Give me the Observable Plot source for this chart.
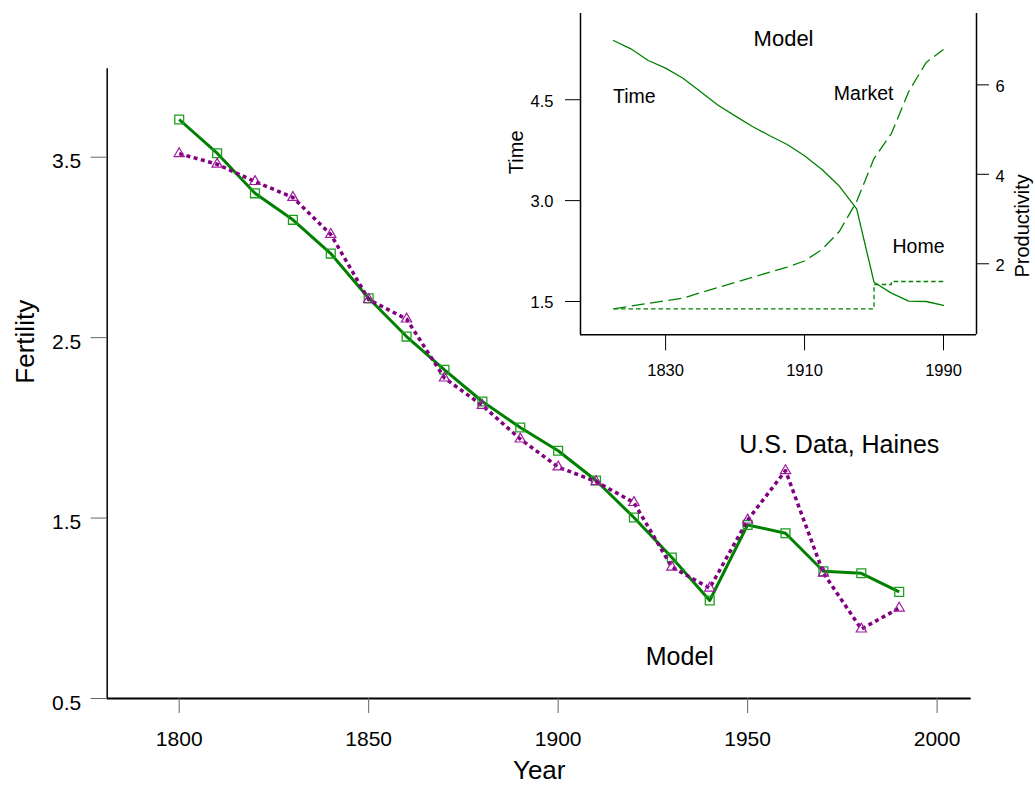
<!DOCTYPE html>
<html>
<head>
<meta charset="utf-8">
<script src="https://cdn.jsdelivr.net/npm/d3@7"></script>
<script src="https://cdn.jsdelivr.net/npm/@observablehq/plot@0.6"></script>
<style>
html, body { margin: 0; padding: 0; background: #fff; }
#chart { position: relative; width: 1035px; height: 798px; }
#chart svg { position: absolute; left: 0; top: 0; }
</style>
</head>
<body>
<div id="chart"></div>
<script>
// ---------- data ----------
const years = [1800, 1810, 1820, 1830, 1840, 1850, 1860, 1870, 1880, 1890,
               1900, 1910, 1920, 1930, 1940, 1950, 1960, 1970, 1980, 1990];
// main panel: fertility
const modelFertility = [3.709, 3.522, 3.300, 3.153, 2.966, 2.718, 2.506, 2.322, 2.146, 2.002,
                        1.873, 1.708, 1.503, 1.281, 1.043, 1.462, 1.416, 1.205, 1.194, 1.091];
const dataFertility  = [3.520, 3.461, 3.365, 3.277, 3.072, 2.711, 2.603, 2.276, 2.124, 1.938,
                        1.783, 1.702, 1.586, 1.228, 1.112, 1.489, 1.763, 1.195, 0.885, 1.001];
// inset: time (left axis), productivity (right axis)
const insetTime   = [5.381, 5.257, 5.083, 4.969, 4.820, 4.622, 4.422, 4.260, 4.102, 3.964,
                     3.834, 3.667, 3.463, 3.217, 2.878, 1.787, 1.624, 1.505, 1.500, 1.441];
const insetMarket = [0.993, 1.054, 1.114, 1.174, 1.232, 1.353, 1.469, 1.583, 1.697, 1.811,
                     1.925, 2.062, 2.319, 2.721, 3.392, 4.353, 4.912, 5.851, 6.500, 6.790];
const insetHome   = [0.993, 0.993, 0.993, 0.993, 0.993, 0.993, 0.993, 0.993, 0.993, 0.993,
                     0.993, 0.993, 0.993, 0.993, 0.993, 1.536, 1.604, 1.604, 1.604, 1.604];

// ticks
const mainXTicks = [1800, 1850, 1900, 1950, 2000];
const mainYTicks = [0.5, 1.5, 2.5, 3.5];
const insetXTicks = [1830, 1910, 1990];
const insetTimeTicks = [1.5, 3.0, 4.5];
const insetProdTicks = [2, 4, 6];

// text labels (placed in data coordinates)
const mainNotes = [
  {label: "U.S. Data, Haines", year: 1974.2, value: 1.906},
  {label: "Model", year: 1932.1, value: 0.731}
];
const insetTitleNote = [{label: "Model", year: 1897.9, value: 5.408}];
const insetNotes = [
  {label: "Time", year: 1812.0, value: 4.539},
  {label: "Market", year: 1944.0, value: 4.594},
  {label: "Home", year: 1975.6, value: 2.310}
];

// scale domains
const yearDomain = [1781, 2009];
const fertilityDomain = [0.5, 3.99];
const timeDomain = [1.005, 5.782];
const prodDomain = [0.412, 7.595];

// ---------- drawing ----------
const FONT = '"Liberation Sans", Arial, Helvetica, sans-serif';
const mainRows = years.map((yr, i) => ({year: yr, model: modelFertility[i], data: dataFertility[i]}));
const insetRows = years.map((yr, i) => ({year: yr, time: insetTime[i], market: insetMarket[i], home: insetHome[i]}));
const svgStyle = {fontFamily: FONT, background: "transparent", overflow: "visible", color: "#000"};

const main = Plot.plot({
  width: 1035, height: 798,
  marginLeft: 106.7, marginRight: 64.3, marginTop: 68.3, marginBottom: 100,
  style: svgStyle,
  x: {domain: yearDomain, axis: null},
  y: {domain: fertilityDomain, axis: null},
  marks: [
    Plot.ruleY([fertilityDomain[0]], {stroke: "#000", strokeWidth: 2}),
    Plot.ruleX([yearDomain[0]], {stroke: "#000", strokeWidth: 1.5}),
    Plot.axisX(mainXTicks, {anchor: "bottom", tickSize: 15, stroke: "#666", fill: "none", label: null}),
    Plot.axisX(mainXTicks, {anchor: "bottom", tickSize: 15, tickPadding: 18, stroke: "none", fill: "#000", fontSize: 21, label: null, tickFormat: d => String(d)}),
    Plot.axisY(mainYTicks, {anchor: "left", tickSize: 16, stroke: "#666", fill: "none", label: null}),
    Plot.axisY(mainYTicks, {anchor: "left", tickSize: 16, tickPadding: 10, stroke: "none", fill: "#000", fontSize: 21, dy: 4.5, label: null, tickFormat: d3.format(".1f")}),
    Plot.line(mainRows, {x: "year", y: "model", stroke: "#008000", strokeWidth: 3, strokeLinecap: "butt"}),
    Plot.dot(mainRows, {x: "year", y: "model", symbol: "square", r: 5, stroke: "#1e9e1e", strokeWidth: 1.3, fill: "none"}),
    Plot.line(mainRows, {x: "year", y: "data", stroke: "#800080", strokeWidth: 3.5, strokeDasharray: "4,3.5", strokeLinecap: "butt"}),
    Plot.dot(mainRows, {x: "year", y: "data", symbol: "triangle", r: 3.8, stroke: "#a01aa0", strokeWidth: 1.2, fill: "none"}),
    Plot.text(mainNotes, {x: "year", y: "value", text: "label", fontSize: 25, fill: "#000"}),
    Plot.text(["Year"], {text: d => d, frameAnchor: "bottom", dy: 80.7, fontSize: 26, fill: "#000"}),
    Plot.text(["Fertility"], {text: d => d, frameAnchor: "left", dx: -82, rotate: -90, fontSize: 26, fill: "#000"})
  ]
});

const insetMargins = {marginLeft: 580, marginRight: 59, marginTop: 13, marginBottom: 463.7};

const insetLeft = Plot.plot({
  width: 1035, height: 798, ...insetMargins,
  style: svgStyle,
  x: {domain: yearDomain, axis: null},
  y: {domain: timeDomain, axis: null},
  marks: [
    Plot.ruleY([timeDomain[0]], {stroke: "#000", strokeWidth: 1.5}),
    Plot.ruleX([yearDomain[0]], {stroke: "#000", strokeWidth: 1.5}),
    Plot.axisX(insetXTicks, {anchor: "bottom", tickSize: 16, stroke: "#000", fill: "none", label: null}),
    Plot.axisX(insetXTicks, {anchor: "bottom", tickSize: 16, tickPadding: 13.8, stroke: "none", fill: "#000", fontSize: 16.5, label: null, tickFormat: d => String(d)}),
    Plot.axisY(insetTimeTicks, {anchor: "left", tickSize: 15, stroke: "#000", fill: "none", label: null}),
    Plot.axisY(insetTimeTicks, {anchor: "left", tickSize: 15, tickPadding: 12, stroke: "none", fill: "#000", fontSize: 16.5, dy: 1.5, label: null, tickFormat: d3.format(".1f")}),
    Plot.line(insetRows, {x: "year", y: "time", stroke: "#008000", strokeWidth: 1.3}),
    Plot.text(insetTitleNote, {x: "year", y: "value", text: "label", fontSize: 22, fill: "#000"}),
    Plot.text(insetNotes, {x: "year", y: "value", text: "label", fontSize: 19.5, fill: "#000"}),
    Plot.text(["Time"], {text: d => d, frameAnchor: "left", dx: -64.4, rotate: -90, fontSize: 20, fill: "#000"})
  ]
});

const insetRight = Plot.plot({
  width: 1035, height: 798, ...insetMargins,
  style: svgStyle,
  x: {domain: yearDomain, axis: null},
  y: {domain: prodDomain, axis: null},
  marks: [
    Plot.ruleX([yearDomain[1]], {stroke: "#000", strokeWidth: 1.5}),
    Plot.axisY(insetProdTicks, {anchor: "right", tickSize: 12, stroke: "#000", fill: "none", label: null}),
    Plot.axisY(insetProdTicks, {anchor: "right", tickSize: 12, tickPadding: 7, stroke: "none", fill: "#000", fontSize: 16.5, dy: 2, label: null, tickFormat: d => String(d)}),
    Plot.line(insetRows, {x: "year", y: "home", curve: "step-after", stroke: "#008000", strokeWidth: 1.3, strokeDasharray: "4.5,3", strokeLinecap: "butt"}),
    Plot.line(insetRows, {x: "year", y: "market", stroke: "#008000", strokeWidth: 1.3, strokeDasharray: "13,5.5", strokeLinecap: "butt"}),
    Plot.text(["Productivity"], {text: d => d, frameAnchor: "right", dx: 45.6, rotate: -90, fontSize: 20, fill: "#000"})
  ]
});

const chart = document.getElementById("chart");
chart.appendChild(main);
chart.appendChild(insetLeft);
chart.appendChild(insetRight);
</script>
</body>
</html>
